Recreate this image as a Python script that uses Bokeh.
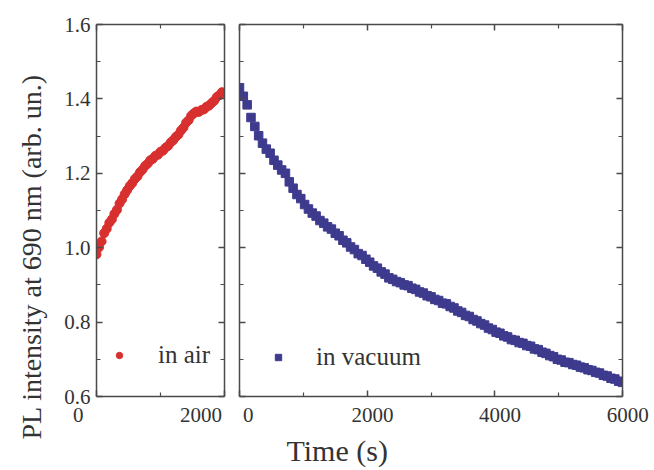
from bokeh.plotting import figure
from bokeh.layouts import row
from bokeh.models import (Range1d, LinearAxis, FixedTicker, PrintfTickFormatter,
                          CustomJSTickFormatter, Legend, LegendItem, Title)
from bokeh.embed import file_html
from bokeh.resources import INLINE

# ---------------- data ----------------
air_time = [0, 40, 80, 120, 160, 200, 240, 280, 320, 360, 400, 440, 480, 520, 560,
            600, 640, 680, 720, 760, 800, 840, 880, 920, 960, 1000, 1040, 1080, 1120,
            1160, 1200, 1240, 1280, 1320, 1360, 1400, 1440, 1480, 1520, 1560, 1600,
            1640, 1680, 1720, 1760, 1800, 1840, 1880, 1920, 1960]
air_pl = [0.982, 1.001, 1.017, 1.039, 1.051, 1.067, 1.076, 1.091, 1.102, 1.119, 1.130,
          1.144, 1.155, 1.166, 1.174, 1.185, 1.192, 1.203, 1.210, 1.220, 1.226, 1.235,
          1.239, 1.247, 1.250, 1.258, 1.261, 1.269, 1.274, 1.283, 1.289, 1.298, 1.304,
          1.315, 1.323, 1.336, 1.343, 1.355, 1.361, 1.366, 1.365, 1.370, 1.372, 1.379,
          1.382, 1.389, 1.395, 1.405, 1.410, 1.418]

vac_time = [0, 60, 120, 180, 240, 300, 360, 420, 480, 540, 600, 660, 720, 780, 840,
            900, 960, 1020, 1080, 1140, 1200, 1260, 1320, 1380, 1440, 1500, 1560, 1620,
            1680, 1740, 1800, 1860, 1920, 1980, 2040, 2100, 2160, 2220, 2280, 2340, 2400,
            2460, 2520, 2580, 2640, 2700, 2760, 2820, 2880, 2940, 3000, 3060, 3120, 3180,
            3240, 3300, 3360, 3420, 3480, 3540, 3600, 3660, 3720, 3780, 3840, 3900, 3960,
            4020, 4080, 4140, 4200, 4260, 4320, 4380, 4440, 4500, 4560, 4620, 4680, 4740,
            4800, 4860, 4920, 4980, 5040, 5100, 5160, 5220, 5280, 5340, 5400, 5460, 5520,
            5580, 5640, 5700, 5760, 5820, 5880, 5940, 6000]
vac_pl = [1.430, 1.407, 1.384, 1.350, 1.326, 1.301, 1.281, 1.265, 1.254, 1.235, 1.222,
          1.209, 1.200, 1.177, 1.160, 1.143, 1.132, 1.116, 1.104, 1.093, 1.085, 1.073,
          1.066, 1.056, 1.050, 1.039, 1.032, 1.020, 1.013, 1.002, 0.995, 0.984, 0.979,
          0.969, 0.961, 0.951, 0.945, 0.935, 0.929, 0.919, 0.915, 0.909, 0.906, 0.900,
          0.898, 0.891, 0.888, 0.881, 0.878, 0.871, 0.868, 0.861, 0.858, 0.851, 0.849,
          0.842, 0.838, 0.830, 0.826, 0.818, 0.815, 0.807, 0.803, 0.796, 0.792, 0.784,
          0.780, 0.773, 0.770, 0.763, 0.760, 0.753, 0.751, 0.745, 0.743, 0.737, 0.735,
          0.728, 0.726, 0.719, 0.716, 0.710, 0.707, 0.700, 0.698, 0.692, 0.691, 0.686,
          0.684, 0.679, 0.677, 0.672, 0.670, 0.665, 0.663, 0.657, 0.655, 0.649, 0.647,
          0.641, 0.638]

y_ticks = [0.6, 0.8, 1.0, 1.2, 1.4, 1.6]
y_minor = [0.7, 0.9, 1.1, 1.3, 1.5]
air_x_ticks = [0, 2000]
air_x_minor = [1000]
vac_x_ticks = [0, 2000, 4000, 6000]
vac_x_minor = [1000, 3000, 5000]

y_label = "PL intensity at 690 nm (arb. un.)"
x_label = "Time (s)"
air_name = "in air"
vac_name = "in vacuum"

# ---------------- style ----------------
FONT = "Liberation Serif"
TXT = "#333333"
AX = "#4a4a4a"
RED = "#d8302f"
BLUE = "#3e3b8e"
H = 470
NB = "\u00a0"


def style_axis(ax, ticks, minor, labels=True):
    ax.ticker = FixedTicker(ticks=ticks, minor_ticks=minor)
    ax.axis_line_color = AX
    ax.axis_line_width = 1.5
    ax.major_tick_line_color = AX
    ax.minor_tick_line_color = AX
    ax.major_tick_line_width = 1.5
    ax.minor_tick_line_width = 1.2
    ax.major_tick_in = 6
    ax.major_tick_out = 0
    ax.minor_tick_in = 4
    ax.minor_tick_out = 0
    ax.major_label_text_font = FONT
    ax.major_label_text_font_size = "21px"
    ax.major_label_text_color = TXT
    ax.major_label_standoff = 6
    if not labels:
        ax.formatter = CustomJSTickFormatter(code="return ''")
        ax.major_label_standoff = 0
        ax.major_label_text_font_size = "1px"


def make_fig(width, xr, border_left, border_right, xticks, xminor, ylabels):
    p = figure(width=width, height=H, output_backend="svg", toolbar_location=None,
               x_range=Range1d(*xr), y_range=Range1d(0.6, 1.6),
               min_border_left=border_left, min_border_right=border_right,
               min_border_top=24, min_border_bottom=72,
               x_axis_location=None, y_axis_location=None)
    p.grid.visible = False
    p.outline_line_color = None
    p.background_fill_color = "white"
    p.border_fill_color = "white"
    bottom = LinearAxis()
    style_axis(bottom, xticks, xminor)
    top = LinearAxis()
    style_axis(top, xticks, xminor, labels=False)
    left = LinearAxis()
    style_axis(left, y_ticks, y_minor, labels=ylabels)
    if ylabels:
        left.formatter = PrintfTickFormatter(format="%.1f")
    right = LinearAxis()
    style_axis(right, y_ticks, y_minor, labels=False)
    p.add_layout(bottom, "below")
    p.add_layout(top, "above")
    p.add_layout(left, "left")
    p.add_layout(right, "right")
    return p, bottom


# left panel: in air
p1, b1 = make_fig(232, (0, 2000), 96, 8, air_x_ticks, air_x_minor, True)
# tick labels of this panel sit left of their ticks in the original
b1.major_label_overrides = {0: "0" + NB * 7, 2000: "2000" + NB * 2}
r1 = p1.scatter(air_time, air_pl, marker="circle", size=9, color=RED)
leg1 = Legend(items=[LegendItem(label=air_name, renderers=[r1])],
              location=(15, 27), padding=0, margin=0, spacing=0,
              glyph_width=16, glyph_height=16, label_standoff=31,
              border_line_color=None, background_fill_alpha=0,
              label_text_font=FONT, label_text_font_size="25px", label_text_color=TXT)
p1.add_layout(leg1)
p1.add_layout(Title(text=y_label, align="left", vertical_align="middle",
                    offset=-43, standoff=28,
                    text_font=FONT, text_font_size="28px", text_font_style="normal",
                    text_color=TXT), "left")

# right panel: in vacuum
p2, b2 = make_fig(422, (0, 6000), 7, 32, vac_x_ticks, vac_x_minor, False)
b2.major_label_overrides = {t: NB * 2 + str(t) for t in vac_x_ticks}
r2 = p2.scatter(vac_time, vac_pl, marker="square", size=8.5, color=BLUE)
leg2 = Legend(items=[LegendItem(label=vac_name, renderers=[r2])],
              location=(31, 25), padding=0, margin=0, spacing=0,
              glyph_width=16, glyph_height=16, label_standoff=30,
              border_line_color=None, background_fill_alpha=0,
              label_text_font=FONT, label_text_font_size="25px", label_text_color=TXT)
p2.add_layout(leg2)
p2.add_layout(Title(text=x_label, align="left", vertical_align="middle",
                    offset=47, standoff=6,
                    text_font=FONT, text_font_size="30px", text_font_style="normal",
                    text_color=TXT), "below")

layout = row(p1, p2)
open("out.html", "w").write(file_html(layout, INLINE))
